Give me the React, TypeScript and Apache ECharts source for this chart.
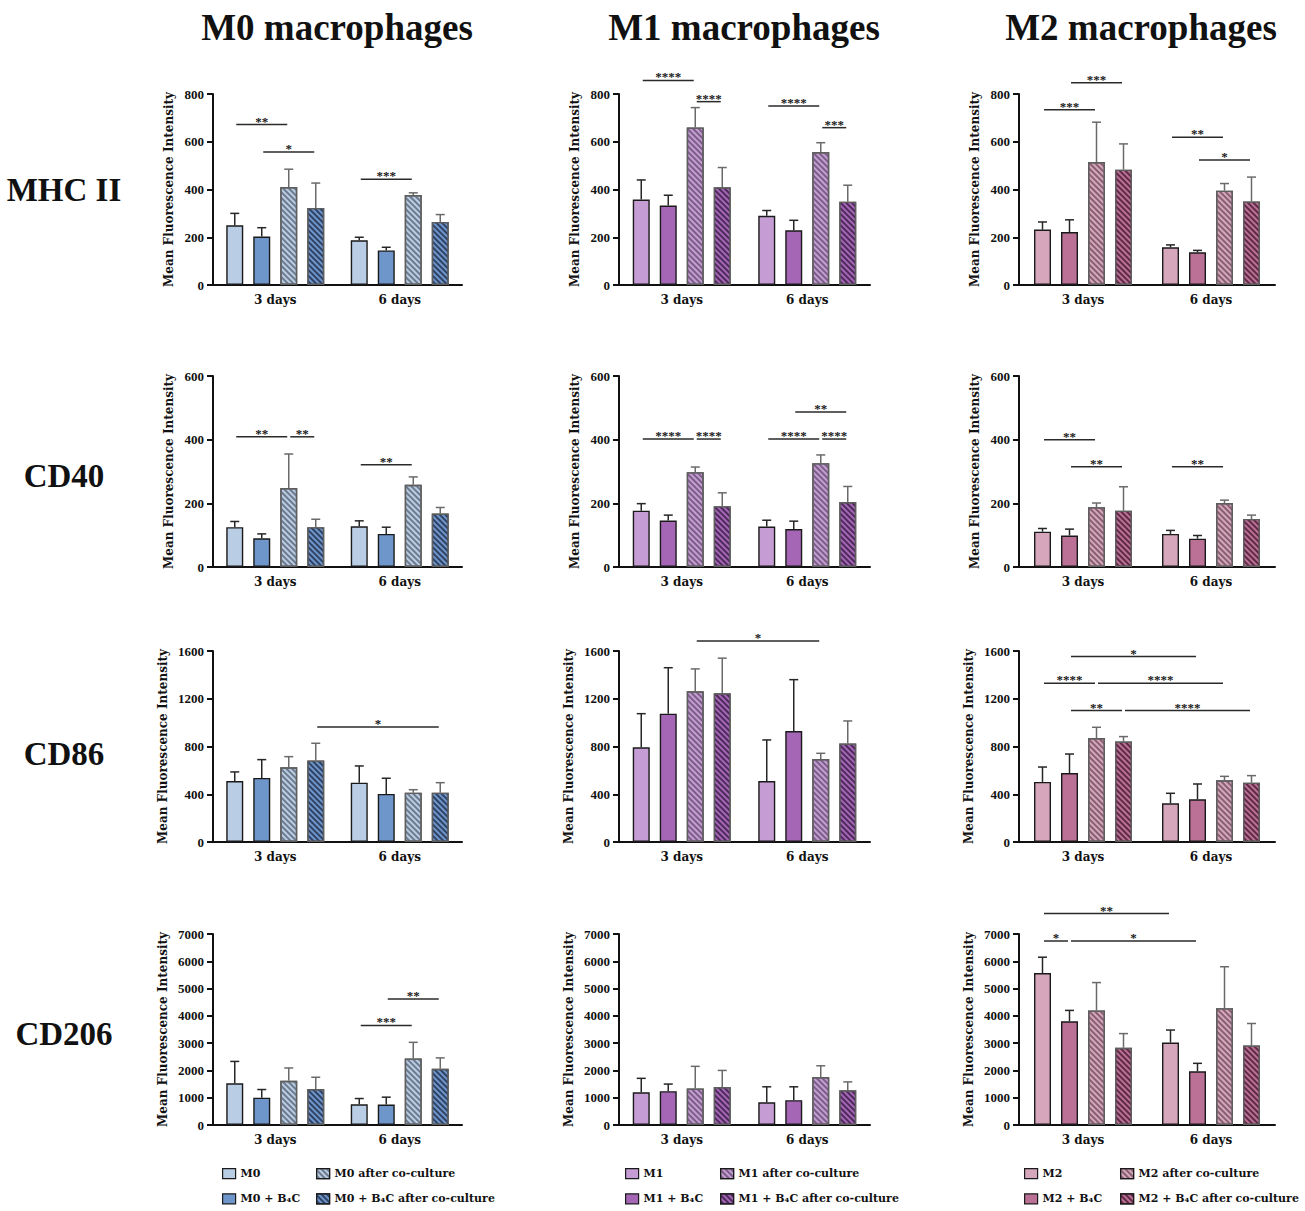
import React, { useEffect, useRef } from 'react';
import * as echarts from 'echarts';

// ---------------- DATA ----------------
const GROUPS = ['3 days', '6 days'];
const MARKERS = ['MHC II', 'CD40', 'CD86', 'CD206'];
const COLUMN_TITLES = ['M0 macrophages', 'M1 macrophages', 'M2 macrophages'];
const SERIES_NAMES = [
  ['M0', 'M0 + B₄C', 'M0 after co-culture', 'M0 + B₄C after co-culture'],
  ['M1', 'M1 + B₄C', 'M1 after co-culture', 'M1 + B₄C after co-culture'],
  ['M2', 'M2 + B₄C', 'M2 after co-culture', 'M2 + B₄C after co-culture'],
];
const Y_MAX = [800, 600, 1600, 7000];
const Y_INTERVAL = [200, 200, 400, 1000];
const Y_NAME = 'Mean Fluorescence Intensity';

// mean[series][group], upper (mean + SD)[series][group]
const M0_MHCII_MEAN = [[250, 187], [203, 145], [410, 377], [323, 264]];
const M0_MHCII_UP = [[300, 200], [240, 158], [485, 386], [427, 295]];
const M1_MHCII_MEAN = [[358, 290], [333, 229], [660, 557], [409, 349]];
const M1_MHCII_UP = [[440, 312], [376, 271], [743, 596], [492, 418]];
const M2_MHCII_MEAN = [[232, 158], [222, 137], [515, 395], [483, 350]];
const M2_MHCII_UP = [[264, 168], [273, 145], [682, 425], [591, 452]];

const M0_CD40_MEAN = [[125, 128], [90, 104], [248, 258], [125, 168]];
const M0_CD40_UP = [[143, 145], [104, 125], [355, 283], [150, 187]];
const M1_CD40_MEAN = [[177, 127], [146, 119], [298, 326], [191, 204]];
const M1_CD40_UP = [[199, 147], [163, 144], [314, 352], [233, 253]];
const M2_CD40_MEAN = [[111, 104], [99, 89], [188, 201], [177, 151]];
const M2_CD40_UP = [[121, 115], [119, 99], [201, 210], [252, 163]];

const M0_CD86_MEAN = [[510, 497], [537, 403], [626, 413], [683, 413]];
const M0_CD86_UP = [[587, 637], [690, 534], [715, 438], [827, 497]];
const M1_CD86_MEAN = [[793, 511], [1075, 930], [1263, 695], [1246, 825]];
const M1_CD86_UP = [[1075, 855], [1460, 1360], [1450, 743], [1540, 1014]];
const M2_CD86_MEAN = [[503, 324], [578, 358], [871, 517], [841, 497]];
const M2_CD86_UP = [[628, 408], [737, 486], [961, 550], [883, 556]];

const M0_CD206_MEAN = [[1530, 760], [1000, 750], [1620, 2440], [1320, 2060]];
const M0_CD206_UP = [[2330, 970], [1300, 1020], [2090, 3030], [1750, 2460]];
const M1_CD206_MEAN = [[1200, 830], [1240, 910], [1340, 1760], [1390, 1270]];
const M1_CD206_UP = [[1710, 1400], [1500, 1400], [2150, 2170], [2000, 1580]];
const M2_CD206_MEAN = [[5570, 3020], [3800, 1970], [4200, 4280], [2830, 2910]];
const M2_CD206_UP = [[6150, 3480], [4200, 2260], [5220, 5800], [3350, 3720]];

// significance: [groupA, barA, groupB, barB, yValue], labels separately
const M0_MHCII_SIG = [[0, 0, 0, 2, 672], [0, 1, 0, 3, 557], [1, 0, 1, 2, 443]];
const M0_MHCII_SIG_LABELS = ['**', '*', '***'];
const M1_MHCII_SIG = [[0, 0, 0, 2, 857], [0, 2, 0, 3, 768], [1, 0, 1, 2, 750], [1, 2, 1, 3, 659]];
const M1_MHCII_SIG_LABELS = ['****', '****', '****', '***'];
const M2_MHCII_SIG = [[0, 0, 0, 2, 734], [0, 1, 0, 3, 847], [1, 0, 1, 2, 619], [1, 1, 1, 3, 524]];
const M2_MHCII_SIG_LABELS = ['***', '***', '**', '*'];

const M0_CD40_SIG = [[0, 0, 0, 2, 409], [0, 2, 0, 3, 409], [1, 0, 1, 2, 321]];
const M0_CD40_SIG_LABELS = ['**', '**', '**'];
const M1_CD40_SIG = [[0, 0, 0, 2, 402], [0, 2, 0, 3, 402], [1, 0, 1, 2, 402], [1, 2, 1, 3, 402], [1, 1, 1, 3, 487]];
const M1_CD40_SIG_LABELS = ['****', '****', '****', '****', '**'];
const M2_CD40_SIG = [[0, 0, 0, 2, 400], [0, 1, 0, 3, 315], [1, 0, 1, 2, 315]];
const M2_CD40_SIG_LABELS = ['**', '**', '**'];

const M0_CD86_SIG = [[0, 3, 1, 3, 964]];
const M0_CD86_SIG_LABELS = ['*'];
const M1_CD86_SIG = [[0, 2, 1, 2, 1684]];
const M1_CD86_SIG_LABELS = ['*'];
const M2_CD86_SIG = [[0, 1, 1, 1, 1553], [0, 0, 0, 2, 1330], [0, 2, 1, 2, 1330], [0, 1, 0, 3, 1101], [0, 3, 1, 3, 1101]];
const M2_CD86_SIG_LABELS = ['*', '****', '****', '**', '****'];

const M0_CD206_SIG = [[1, 0, 1, 2, 3650], [1, 1, 1, 3, 4620]];
const M0_CD206_SIG_LABELS = ['***', '**'];
const M1_CD206_SIG: number[][] = [];
const M1_CD206_SIG_LABELS: string[] = [];
const M2_CD206_SIG = [[0, 0, 1, 0, 7750], [0, 0, 0, 1, 6743], [0, 1, 1, 1, 6743]];
const M2_CD206_SIG_LABELS = ['**', '*', '*'];

// panels[row][col]
const PANELS = [
  [
    { mean: M0_MHCII_MEAN, up: M0_MHCII_UP, sig: M0_MHCII_SIG, sigLabels: M0_MHCII_SIG_LABELS },
    { mean: M1_MHCII_MEAN, up: M1_MHCII_UP, sig: M1_MHCII_SIG, sigLabels: M1_MHCII_SIG_LABELS },
    { mean: M2_MHCII_MEAN, up: M2_MHCII_UP, sig: M2_MHCII_SIG, sigLabels: M2_MHCII_SIG_LABELS },
  ],
  [
    { mean: M0_CD40_MEAN, up: M0_CD40_UP, sig: M0_CD40_SIG, sigLabels: M0_CD40_SIG_LABELS },
    { mean: M1_CD40_MEAN, up: M1_CD40_UP, sig: M1_CD40_SIG, sigLabels: M1_CD40_SIG_LABELS },
    { mean: M2_CD40_MEAN, up: M2_CD40_UP, sig: M2_CD40_SIG, sigLabels: M2_CD40_SIG_LABELS },
  ],
  [
    { mean: M0_CD86_MEAN, up: M0_CD86_UP, sig: M0_CD86_SIG, sigLabels: M0_CD86_SIG_LABELS },
    { mean: M1_CD86_MEAN, up: M1_CD86_UP, sig: M1_CD86_SIG, sigLabels: M1_CD86_SIG_LABELS },
    { mean: M2_CD86_MEAN, up: M2_CD86_UP, sig: M2_CD86_SIG, sigLabels: M2_CD86_SIG_LABELS },
  ],
  [
    { mean: M0_CD206_MEAN, up: M0_CD206_UP, sig: M0_CD206_SIG, sigLabels: M0_CD206_SIG_LABELS },
    { mean: M1_CD206_MEAN, up: M1_CD206_UP, sig: M1_CD206_SIG, sigLabels: M1_CD206_SIG_LABELS },
    { mean: M2_CD206_MEAN, up: M2_CD206_UP, sig: M2_CD206_SIG, sigLabels: M2_CD206_SIG_LABELS },
  ],
];

// ---------------- STYLE ----------------
const W = 1305;
const H = 1211;
const COL_LEFT = [213, 619, 1019];
const COL_WIDTH = [249, 251, 256];
const ROW_TOP = [94, 376, 651, 934];
const ROW_HEIGHT = 191;
const ROW_NAME_GAP = [38, 38, 44, 44];
const BAR_W = 17;
const BAR_SPACE = 10;
const STEP = BAR_W + BAR_SPACE;
const FILL = [
  ['#b9cde5', '#6f96cb', '#b9cde5', '#6f96cb'],
  ['#c59dd4', '#a566b6', '#c59dd4', '#a566b6'],
  ['#d6a6bc', '#bb7095', '#d6a6bc', '#bb7095'],
];
const STRIPE = [
  ['#6e7a8c', '#2f4264'],
  ['#7a5e86', '#4e2a5c'],
  ['#866070', '#5e2a45'],
];
const SERIF = '"Liberation Serif", "DejaVu Serif", serif';
const DEJAVU = '"DejaVu Serif", "Liberation Serif", serif';
const INK = '#111';
const TITLE_X = [337, 744, 1141];
const ROW_LABEL_Y = [190, 476, 754, 1034];
const LEGEND_LEFT = [[222, 316], [625, 720], [1024, 1120]];

function buildOption() {
  const grid: any[] = [];
  const xAxis: any[] = [];
  const yAxis: any[] = [];
  const series: any[] = [];

  for (let r = 0; r < 4; r++) {
    for (let c = 0; c < 3; c++) {
      const gi = r * 3 + c;
      const panel = PANELS[r][c];
      grid.push({ left: COL_LEFT[c], top: ROW_TOP[r], width: COL_WIDTH[c], height: ROW_HEIGHT, containLabel: false });
      xAxis.push({
        type: 'category',
        gridIndex: gi,
        data: GROUPS,
        axisLine: { lineStyle: { color: INK, width: 2 } },
        axisTick: { alignWithLabel: true, length: 5, lineStyle: { color: INK, width: 2 } },
        axisLabel: { fontFamily: DEJAVU, fontWeight: 'bold', fontSize: 12, color: INK, margin: 9 },
      });
      yAxis.push({
        type: 'value',
        gridIndex: gi,
        min: 0,
        max: Y_MAX[r],
        interval: Y_INTERVAL[r],
        axisLine: { show: true, lineStyle: { color: INK, width: 2 } },
        axisTick: { show: true, length: 6, lineStyle: { color: INK, width: 2 } },
        splitLine: { show: false },
        axisLabel: {
          fontFamily: SERIF,
          fontWeight: 'bold',
          fontSize: 13,
          color: INK,
          margin: 9,
          formatter: (v: number) => String(v),
        },
        name: Y_NAME,
        nameLocation: 'middle',
        nameGap: ROW_NAME_GAP[r],
        nameTextStyle: { fontFamily: DEJAVU, fontWeight: 'bold', fontSize: 12, color: INK },
      });
      for (let s = 0; s < 4; s++) {
        const hatched = s >= 2;
        series.push({
          type: 'bar',
          name: SERIES_NAMES[c][s],
          xAxisIndex: gi,
          yAxisIndex: gi,
          data: panel.mean[s],
          barWidth: BAR_W,
          barGap: `${(BAR_SPACE / BAR_W) * 100}%`,
          silent: true,
          itemStyle: {
            color: FILL[c][s],
            borderColor: hatched ? '#5e5e5e' : '#1a1a1a',
            borderWidth: 1.4,
            decal: hatched
              ? {
                  symbol: 'rect',
                  symbolSize: 1,
                  color: STRIPE[c][s - 2],
                  dashArrayX: [1, 0],
                  dashArrayY: [1.3, 1.9],
                  rotation: Math.PI / 4,
                }
              : undefined,
          },
        });
      }
      // error bars
      const errData: number[][] = [];
      for (let s = 0; s < 4; s++) {
        for (let g = 0; g < 2; g++) errData.push([g, panel.up[s][g], s, panel.mean[s][g]]);
      }
      series.push({
        type: 'custom',
        xAxisIndex: gi,
        yAxisIndex: gi,
        silent: true,
        z: 3,
        data: errData,
        renderItem: (params: any, api: any) => {
          const g = api.value(0);
          const up = api.value(1);
          const s = api.value(2);
          const mean = api.value(3);
          const p0 = api.coord([g, mean]);
          const p1 = api.coord([g, up]);
          const x = p0[0] + (s - 1.5) * STEP;
          const stroke = s >= 2 ? '#6a6a6a' : '#262626';
          const style = { stroke, lineWidth: 1.5 };
          return {
            type: 'group',
            children: [
              { type: 'line', shape: { x1: x, y1: p0[1], x2: x, y2: p1[1] }, style },
              { type: 'line', shape: { x1: x - 4.5, y1: p1[1], x2: x + 4.5, y2: p1[1] }, style },
            ],
          };
        },
      });
      // significance brackets
      if (panel.sig.length) {
        const labels = panel.sigLabels;
        series.push({
          type: 'custom',
          xAxisIndex: gi,
          yAxisIndex: gi,
          silent: true,
          clip: false,
          z: 4,
          data: panel.sig.map((d) => [d[0], d[4], d[1], d[2], d[3]]),
          renderItem: (params: any, api: any) => {
            const gA = api.value(0);
            const y = api.value(1);
            const bA = api.value(2);
            const gB = api.value(3);
            const bB = api.value(4);
            const pa = api.coord([gA, y]);
            const pb = api.coord([gB, y]);
            const xa = pa[0] + (bA - 1.5) * STEP + 1.5;
            const xb = pb[0] + (bB - 1.5) * STEP - 1.5;
            const py = pa[1];
            return {
              type: 'group',
              children: [
                { type: 'line', shape: { x1: xa, y1: py, x2: xb, y2: py }, style: { stroke: '#2a2a2a', lineWidth: 1.5 } },
                {
                  type: 'text',
                  x: (xa + xb) / 2,
                  y: py + 3,
                  style: {
                    text: labels[params.dataIndex],
                    fill: '#1a1a1a',
                    fontFamily: SERIF,
                    fontWeight: 'bold',
                    fontSize: 13,
                    align: 'center',
                    verticalAlign: 'bottom',
                  },
                },
              ],
            };
          },
        });
      }
    }
  }

  const legend: any[] = [];
  for (let c = 0; c < 3; c++) {
    for (let k = 0; k < 2; k++) {
      legend.push({
        left: LEGEND_LEFT[c][k],
        top: 1168,
        height: 43,
        padding: 0,
        orient: 'vertical',
        icon: 'rect',
        itemWidth: 13,
        itemHeight: 10,
        itemGap: 14,
        selectedMode: false,
        data: [SERIES_NAMES[c][k * 2], SERIES_NAMES[c][k * 2 + 1]],
        itemStyle: { borderColor: '#1a1a1a', borderWidth: 1.2 },
        textStyle: { fontFamily: DEJAVU, fontWeight: 'bold', fontSize: 11, color: INK },
      });
    }
  }

  const graphic: any[] = [];
  for (let c = 0; c < 3; c++) {
    graphic.push({
      type: 'text',
      x: TITLE_X[c],
      y: 27,
      style: { text: COLUMN_TITLES[c], fill: INK, fontFamily: SERIF, fontWeight: 'bold', fontSize: 37, align: 'center', verticalAlign: 'middle' },
    });
  }
  for (let r = 0; r < 4; r++) {
    graphic.push({
      type: 'text',
      x: 64,
      y: ROW_LABEL_Y[r],
      style: { text: MARKERS[r], fill: INK, fontFamily: SERIF, fontWeight: 'bold', fontSize: 33, align: 'center', verticalAlign: 'middle' },
    });
  }

  return {
    animation: false,
    backgroundColor: '#ffffff',
    grid,
    xAxis,
    yAxis,
    series,
    legend,
    graphic,
  };
}

export default function App() {
  const ref = useRef<HTMLDivElement>(null);
  useEffect(() => {
    document.body.style.margin = '0';
    const chart = echarts.init(ref.current as HTMLDivElement, null, { renderer: 'svg' });
    chart.setOption(buildOption() as any);
    return () => chart.dispose();
  }, []);
  return <div ref={ref} style={{ width: W, height: H }} />;
}
